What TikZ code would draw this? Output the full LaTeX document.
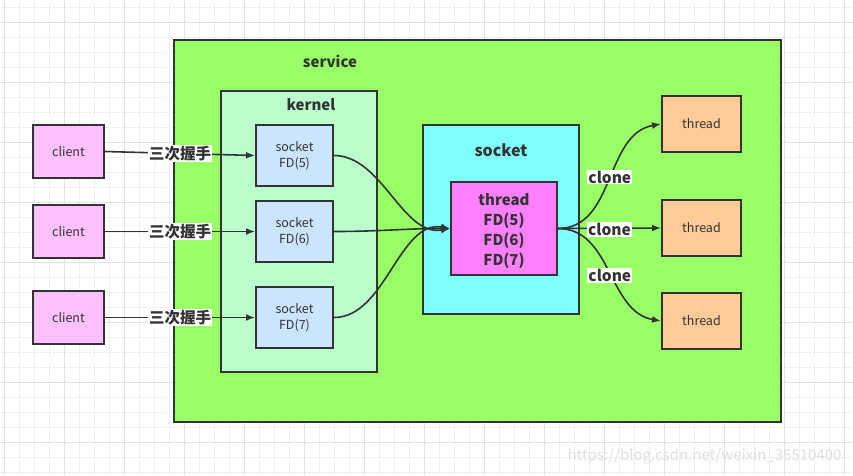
\documentclass[tikz,border=0pt]{standalone}
\usepackage{fontspec}
\setmainfont{Noto Sans CJK SC}
\usetikzlibrary{arrows.meta}
\definecolor{edge}{HTML}{333333}
\definecolor{svc}{HTML}{99FF66}
\definecolor{kern}{HTML}{BBFFCC}
\definecolor{sockfd}{HTML}{CCE5FF}
\definecolor{cli}{HTML}{FFC0FF}
\definecolor{sockbig}{HTML}{80FFFF}
\definecolor{thrin}{HTML}{FF80FF}
\definecolor{thrbox}{HTML}{FFCC99}
\definecolor{gridminor}{HTML}{F0F0F0}
\definecolor{gridmajor}{HTML}{E2E2E2}
\begin{document}
\begin{tikzpicture}[x=1pt,y=-1pt,
  box/.style={draw=edge,line width=2pt,inner sep=0pt,text=edge,align=center},
  arr/.style={draw=edge,line width=1.6pt,-{Latex[length=9pt,width=7pt]}},
  lab/.style={fill=white,inner sep=1pt,text=edge,font=\fontsize{15.5}{17}\selectfont\bfseries},
  title/.style={text=edge,font=\fontsize{15}{18}\selectfont\bfseries}]
\useasboundingbox (0,0) rectangle (853,475);
\fill[white] (0,0) rectangle (853,475);
% grid
\foreach \x in {4,19,...,853} \draw[gridminor,line width=0.8pt] (\x,0) -- (\x,475);
\foreach \y in {7,22,...,475} \draw[gridminor,line width=0.8pt] (0,\y) -- (853,\y);
\foreach \x in {4,64,...,853} \draw[gridmajor,line width=0.8pt] (\x,0) -- (\x,475);
\foreach \y in {22,82,...,475} \draw[gridmajor,line width=0.8pt] (0,\y) -- (853,\y);
% service
\node[box,fill=svc,minimum width=607pt,minimum height=382pt] (service) at (477.5,231) {};
\node[title] (servicelab) at (330,61) {service};
% kernel
\node[box,fill=kern,minimum width=156pt,minimum height=281pt] (kernel) at (299,231.5) {};
\node[title] (kernellab) at (311,105) {kernel};
% socket fd boxes
\foreach \n/\y/\k in {s5/155.5/5,s6/231.5/6,s7/317.5/7}
  \node[box,fill=sockfd,minimum width=77pt,minimum height=61pt,font=\fontsize{12.5}{15.5}\selectfont] (\n) at (294.5,\y) {socket\\FD(\k)};
% clients
\foreach \n/\y in {c5/151.5,c6/231.5,c7/317.5}
  \node[box,fill=cli,minimum width=71pt,minimum height=53pt,font=\fontsize{12.5}{15}\selectfont] (\n) at (68.5,\y) {client};
% big socket
\node[box,fill=sockbig,minimum width=156pt,minimum height=189pt] (sock) at (501,219.5) {};
\node[title,font=\fontsize{16}{19}\selectfont\bfseries] (socklab) at (501,150) {socket};
\node[box,fill=thrin,minimum width=106pt,minimum height=93pt] (thr) at (504,228.5) {};
\node[text=edge,align=center,font=\fontsize{15}{20}\selectfont\bfseries] (thrtext) at (504,231) {thread\\FD(5)\\FD(6)\\FD(7)};
% thread boxes
\foreach \n/\y in {t1/124,t2/228,t3/321}
  \node[box,fill=thrbox,minimum width=79pt,minimum height=56pt,font=\fontsize{12.5}{15}\selectfont] (\n) at (701.5,\y) {thread};
% client arrows
\foreach \c/\s in {c5/s5,c6/s6,c7/s7}
  \draw[arr] (\c.east) -- node[lab] {三次握手} (\s.west);
% socket fd to thread
\coordinate (tin) at (thr.west);
\draw[arr] (s5.east) to[out=0,in=190,looseness=0.9] (tin);
\draw[arr] (s6.east) to[out=0,in=180] (tin);
\draw[arr] (s7.east) to[out=0,in=170,looseness=0.9] (tin);
% clone
\draw[arr] (thr.east) to[out=0,in=190] node[lab,pos=0.5,yshift=3pt] {clone} (t1.west);
\draw[arr] (thr.east) -- node[lab,pos=0.5,yshift=-1pt] {clone} (t2.west);
\draw[arr] (thr.east) to[out=0,in=170] node[lab,pos=0.5,yshift=-4pt] {clone} (t3.west);
% watermark
\node[text=black!12,font=\fontsize{15}{17}\selectfont,anchor=east] (wm) at (845,456) {https://blog.csdn.net/weixin\_36510400};
\end{tikzpicture}
\end{document}
